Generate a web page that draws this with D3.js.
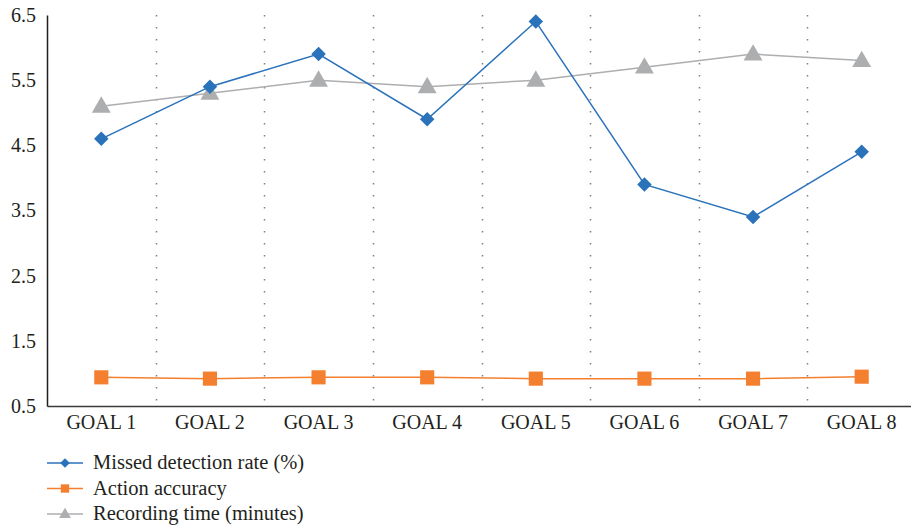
<!DOCTYPE html>
<html>
<head>
<meta charset="utf-8">
<script src="https://d3js.org/d3.v7.min.js"></script>
<style>
  body { margin:0; background:#fff; }
  svg text { font-family:"Liberation Serif", "DejaVu Serif", serif !important; fill:#231f20; }
</style>
</head>
<body>
<div id="chart"></div>
<script>
// data
var goals = ["GOAL 1","GOAL 2","GOAL 3","GOAL 4","GOAL 5","GOAL 6","GOAL 7","GOAL 8"];
var missedRate = [4.6, 5.4, 5.9, 4.9, 6.4, 3.9, 3.4, 4.4];
var actionAcc = [0.94, 0.92, 0.94, 0.94, 0.92, 0.92, 0.92, 0.95];
var recTime = [5.1, 5.3, 5.5, 5.4, 5.5, 5.7, 5.9, 5.8];
var yTicks = [0.5, 1.5, 2.5, 3.5, 4.5, 5.5, 6.5];

var series = [
  {name:"Missed detection rate (%)", values:missedRate, color:"#2a72ba", shape:"diamond"},
  {name:"Action accuracy", values:actionAcc, color:"#f47f2f", shape:"square"},
  {name:"Recording time (minutes)", values:recTime, color:"#adaeb0", shape:"triangle"}
];

var width = 911, height = 529;
var padL = 47, padT = 15, padB = 406, padR = 916;
var fontSize = 20;

var svg = d3.select("#chart").append("svg")
  .attr("width", width).attr("height", height);

var x = d3.scaleBand().domain(goals).range([padL, padR]);
var y = d3.scaleLinear().domain([0.5, 6.5]).range([padB, padT]);

// dotted separators between goals
svg.append("g").selectAll("line")
  .data(goals.slice(1))
  .enter().append("line")
  .attr("x1", d => Math.round(x(d)) + 0.5)
  .attr("x2", d => Math.round(x(d)) + 0.5)
  .attr("y1", padT)
  .attr("y2", padB)
  .attr("stroke", "#808080")
  .attr("stroke-width", 1.5)
  .attr("stroke-dasharray", "1.5,10.5");

// x axis
var xAxis = svg.append("g")
  .attr("transform", "translate(0," + padB + ")")
  .call(d3.axisBottom(x).tickSize(0).tickPadding(9));
xAxis.select(".domain").attr("stroke", "#3a3a3a").attr("stroke-width", 1.5);
xAxis.selectAll("text").attr("font-size", fontSize).attr("fill", "#231f20");

// y axis
var yAxis = svg.append("g")
  .attr("transform", "translate(" + padL + ",0)")
  .call(d3.axisLeft(y).tickValues(yTicks).tickFormat(d3.format(".1f")).tickSize(0).tickPadding(11));
yAxis.select(".domain").attr("stroke", "#231f20").attr("stroke-width", 1.5);
yAxis.selectAll("text").attr("font-size", fontSize).attr("fill", "#231f20");

var symbols = {
  diamond: d3.symbol().type(d3.symbolSquare).size(105),
  square: d3.symbol().type(d3.symbolSquare).size(200),
  triangle: d3.symbol().type(d3.symbolTriangle).size(155)
};

function marker(g, s, cx, cy) {
  var p = g.append("path")
    .attr("d", symbols[s.shape]())
    .attr("fill", s.color);
  if (s.shape == "diamond")
    p.attr("transform", "translate(" + cx + "," + cy + ") rotate(45)");
  else if (s.shape == "triangle")
    p.attr("transform", "translate(" + cx + "," + (cy + 1) + ")");
  else
    p.attr("transform", "translate(" + cx + "," + cy + ")");
}

var line = d3.line()
  .x((d, i) => x(goals[i]) + x.bandwidth() / 2)
  .y(d => y(d));

// draw grey, orange, then blue on top
[series[2], series[1], series[0]].forEach(function(s) {
  var g = svg.append("g");
  g.append("path")
    .datum(s.values)
    .attr("d", line)
    .attr("fill", "none")
    .attr("stroke", s.color)
    .attr("stroke-width", 1.5);
  s.values.forEach(function(v, i) {
    marker(g, s, x(goals[i]) + x.bandwidth() / 2, y(v));
  });
});

// legend
var legend = svg.append("g");
series.forEach(function(s, i) {
  var ly = 463 + i * 25.5;
  legend.append("line")
    .attr("x1", 47).attr("x2", 83)
    .attr("y1", ly).attr("y2", ly)
    .attr("stroke", s.color).attr("stroke-width", 1.5);
  var p = legend.append("path").attr("fill", s.color);
  if (s.shape == "diamond")
    p.attr("d", d3.symbol().type(d3.symbolSquare).size(45)()).attr("transform", "translate(65," + ly + ") rotate(45)");
  else if (s.shape == "square")
    p.attr("d", d3.symbol().type(d3.symbolSquare).size(70)()).attr("transform", "translate(65," + ly + ")");
  else
    p.attr("d", d3.symbol().type(d3.symbolTriangle).size(60)()).attr("transform", "translate(65," + (ly + 0.5) + ")");
  legend.append("text")
    .attr("x", 93).attr("y", ly + 6)
    .attr("font-size", 20.5)
    .text(s.name);
});
</script>
</body>
</html>
